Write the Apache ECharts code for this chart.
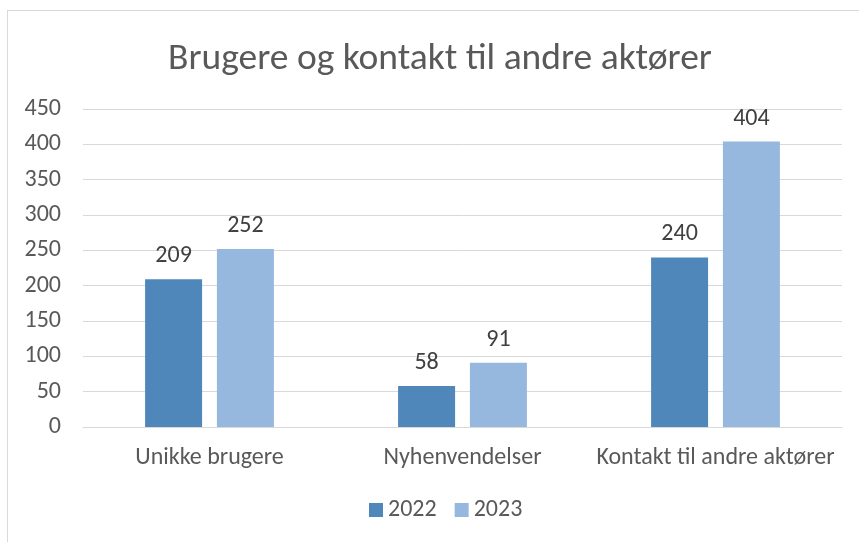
<!DOCTYPE html>
<html>
<head>
<meta charset="utf-8">
<script src="https://cdn.jsdelivr.net/npm/echarts@6/dist/echarts.min.js"></script>
<style>
  html, body { margin: 0; padding: 0; background: #fff; }
  #frame { position: absolute; left: 7px; top: 10px; width: 900px; height: 600px;
           border-left: 1px solid #d9d9d9; border-top: 1px solid #d9d9d9; }
  #main { position: absolute; left: 0; top: 0; width: 859px; height: 542px; }
</style>
</head>
<body>
<div id="frame"></div>
<div id="main"></div>
<script>
  // data
  const categories = ['Unikke brugere', 'Nyhenvendelser', 'Kontakt til andre aktører'];
  const values2022 = [209, 58, 240];
  const values2023 = [252, 91, 404];
  const seriesNames = ['2022', '2023'];

  const textColor = '#595959';
  const fontFamily = 'Carlito, "Open Sans", "Liberation Sans", sans-serif';

  const chart = echarts.init(document.getElementById('main'));

  const labelStyle = {
    show: true,
    position: 'top',
    distance: 11,
    color: '#404040',
    fontSize: 24,
    fontFamily: fontFamily
  };

  chart.setOption({
    animation: false,
    textStyle: { fontFamily: fontFamily },
    title: {
      text: 'Brugere og kontakt til andre aktører',
      left: 163,
      top: 36,
      textStyle: { color: textColor, fontSize: 37.5, fontWeight: 'normal', fontFamily: fontFamily }
    },
    legend: {
      data: seriesNames,
      bottom: 15,
      left: 364,
      itemWidth: 14,
      itemHeight: 14,
      itemGap: 18,
      icon: 'rect',
      textStyle: { color: textColor, fontSize: 24, fontFamily: fontFamily }
    },
    grid: { left: 83, right: 17, top: 109, bottom: 115 },
    xAxis: {
      type: 'category',
      data: categories,
      axisLine: { lineStyle: { color: '#d9d9d9', width: 1 } },
      axisTick: { show: false },
      axisLabel: { color: textColor, fontSize: 24, margin: 19, interval: 0, fontFamily: fontFamily }
    },
    yAxis: {
      type: 'value',
      min: 0,
      max: 450,
      interval: 50,
      axisLine: { show: false },
      axisTick: { show: false },
      axisLabel: { color: textColor, fontSize: 24, margin: 22, fontFamily: fontFamily },
      splitLine: { lineStyle: { color: '#d9d9d9', width: 1 } }
    },
    series: [
      {
        name: seriesNames[0],
        type: 'bar',
        data: values2022,
        barWidth: 57,
        barGap: '26%',
        itemStyle: { color: '#4f87ba' },
        label: labelStyle
      },
      {
        name: seriesNames[1],
        type: 'bar',
        data: values2023,
        barWidth: 57,
        itemStyle: { color: '#97b8de' },
        label: labelStyle
      }
    ]
  });
</script>
</body>
</html>
